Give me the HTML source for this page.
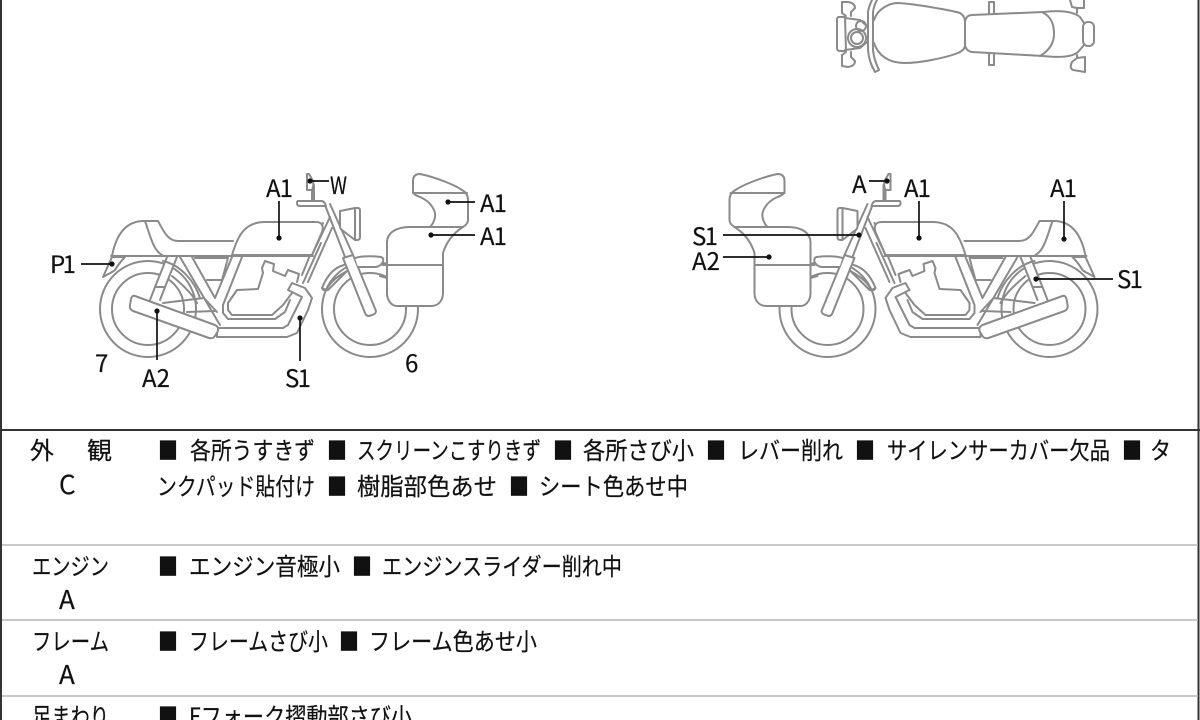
<!DOCTYPE html>
<html lang="ja"><head><meta charset="utf-8"><style>
html,body{margin:0;padding:0;background:#fff;width:1200px;height:720px;overflow:hidden}
svg{display:block;filter:blur(.35px)}
.l{font-family:"Noto Sans CJK JP","Liberation Sans",sans-serif;font-size:24px;fill:#111;stroke:#111;stroke-width:.2}
.t{font-family:"Noto Sans CJK JP","Liberation Sans",sans-serif;font-size:24px;fill:#111;stroke:#111;stroke-width:.2}
.d{fill:none;stroke:#8a8a8a;stroke-width:2;stroke-linejoin:round;stroke-linecap:round}
.k{stroke:#111;stroke-width:1.7;fill:none}
</style></head><body>
<svg width="1200" height="720" viewBox="0 0 1200 720" xmlns="http://www.w3.org/2000/svg">
<rect width="1200" height="720" fill="#fff"/>
<defs>
<g id="bike" class="d">
<circle cx="148" cy="309" r="48"/><circle cx="148" cy="309" r="36"/>
<circle cx="370" cy="309" r="48"/><circle cx="370" cy="309" r="36"/>
<path fill="#fff" d="M112,256 C116,235 125,222 142,221 L158,221 C164,232 168,241 178,241 L233,241"/>
<path d="M145,221 C150,235 153,250 162,255"/>
<path d="M312,255 L330,217 M303,283 L321,243 M302,275 L323,223 M308,282 L332,228"/>
<path d="M111,256 L313,256"/>
<path fill="#fff" d="M112,257 L103,277 C108,274 113,272 115,270 C118,265 122,260 125,257 Z"/>
<path fill="#fff" d="M232,255 C238,235 245,222 265,222 L316,222 C322,222 324,226 322,232 L312,255 Z"/>
<path fill="#fff" d="M167,257 L155,287 L165,287 L177,257 M155,287 L150,300 M165,287 L160,300"/>
<path d="M180,257 L217,320 L220,325 M192,257 L215,298 L232,257"/>
<path d="M195,258 L228,258 L222,280 L207,280 M207,280 L222,280"/>
<path d="M172,276 C183,285 193,295 197,303 M163,261 C181,265 195,282 200,298"/>
<path d="M163,303 L204,298 M187,312 L215,311 M204,298 L217,312"/>
<path d="M242,257 L223,305 L223,313 L228,319 L275,319 L285,312 L290,300"/>
<path d="M262,268 L265,261 L274,264 L273,271 L285,276 L288,270 L299,274 L297,282 M262,268 L263,273 L258,289 L237,290 L228,303 L228,310 L232,315 L272,315 L283,305 L292,293"/>
<path fill="#fff" d="M217,337 L287,337 L297,333 L308,310 L312,298 L305,288 L292,283 L288,290 L302,297 L288,325 L283,328 L217,328 Z"/>
<path fill="#fff" d="M135,296 L215,325 Q219,327 218,331 L215,336 Q213,339 209,338 L133,311 Q129,309 130,305 L131,299 Q132,295 135,296 Z"/>
<path d="M325,205 L345,257 M330,204 L353,255"/>
<path fill="#fff" d="M298,201 L322,201 Q325,202 326,206 L300,206 Q297,206 297,203 Q297,201 298,201 Z"/>
<path d="M312,200 L312,190 M314,200 L314,185"/>
<path d="M307,174 L309,174 L313,181 Q314,186 312,190 L307,190 Z"/>
<path fill="#fff" d="M340,211 L355,208 L358,208 Q360,208 360,211 L360,237 Q360,240 357,240 L355,240 L342,230 Q340,229 340,226 Z M355,208 L355,240"/>
<path fill="#fff" d="M343,258 L353,255 L376,311 Q376,314 372,315 L369,316 Q366,316 365,313 Z"/>
<path fill="#fff" d="M322,288 C328,273 336,267 344,265 M326,290 C332,279 342,274 347,271 L328,290 Q323,291 322,288 Z M355,258 C362,256 372,256 381,257 Q384,258 383,262 Q381,266 376,267 L358,267"/>
<path d="M383,265 L387,265 M380,276 L387,278"/>
<path fill="#fff" d="M387,243 C387,232 397,227 410,227 L463,227 C455,232 447,240 443,253 L443,293 C443,301 438,306 431,306 L397,306 C392,306 387,301 387,293 Z"/>
<path d="M387,265 L443,265"/>
<path fill="#fff" d="M413,192 L413,181 Q413,174 420,174 C435,177 455,185 462,190 Q468,193 468,200 L468,220 Q468,224 463,227 L430,227 Q434,223 435,217 C436,212 432,202 420,197 Q414,195 413,192 Z"/>
<path d="M413,193 L467,193"/>
</g>
</defs>
<use href="#bike"/>
<use href="#bike" transform="matrix(-1 0 0 1 1197.5 0)"/>
<g class="d">
<path d="M874,20 C878,8 890,3 898,3 C915,4 950,10 960,13 Q965,16 965,22 L965,45 Q965,50 958,53 C945,58 920,63 905,63 C888,63 878,55 874,43"/>
<path d="M965,22 Q966,15 972,15 L1043,12 Q1070,9 1080,17 L1084,23 M965,45 Q966,51 972,52 L1043,56 Q1070,59 1078,52 L1084,45"/>
<path d="M1042,12 C1052,17 1054,25 1054,34 C1054,42 1050,50 1040,56"/>
<rect x="1083" y="22" width="11" height="24" rx="5"/>
<path d="M989,13 L989,2 L994,2 L994,13 M989,54 L989,65 L994,65 L994,54"/>
<path d="M1077,13 L1077,8 L1084,8 L1084,0 M1070,0 L1072,7 L1077,8 M1077,55 L1077,58 L1072,62 Q1069,68 1073,70 L1085,72 L1085,57 L1077,58"/>
<path d="M872,0 Q869,6 868,12 L868,50 Q869,62 875,72 L879,70 Q874,60 873,50 L873,12 Q874,5 877,0"/>
<path d="M845,17 L839,17 Q837,17 837,20 L837,48 Q837,51 840,51 L846,51 Z M845,18 L860,20 L867,26 M845,50 L860,48 L867,42"/>
<circle cx="857" cy="38" r="6"/><circle cx="857" cy="38" r="9"/><circle cx="861" cy="26" r="5"/>
<path d="M846,16 L842,13 L842,2 L848,2 Q855,3 855,8 L851,12 L851,16 M846,52 L842,55 L842,66 L848,67 Q855,66 855,61 L851,57 L851,52"/>
</g>
<g class="k">
<path d="M279,201V238M310,181H329M81,264H112M157,360V311M300,361V318M448,202H475M431,235H475"/>
<path d="M869,181H887M919,201V238M1064,201V239M1036,279H1113M723,235H859M723,257H769"/>
</g>
<g fill="#111">
<circle cx="279" cy="238" r="2.6"/><circle cx="310" cy="181" r="2.6"/><circle cx="112" cy="264" r="2.6"/><circle cx="157" cy="311" r="2.6"/><circle cx="300" cy="318" r="2.6"/><circle cx="448" cy="202" r="2.6"/><circle cx="431" cy="235" r="2.6"/>
<circle cx="887" cy="181" r="2.6"/><circle cx="919" cy="238" r="2.6"/><circle cx="1064" cy="239" r="2.6"/><circle cx="1036" cy="279" r="2.6"/><circle cx="859" cy="235" r="2.6"/><circle cx="769" cy="257" r="2.6"/>
</g>
<g class="l">
<text x="266" y="197" textLength="27">A1</text><text x="330" y="194" textLength="17" lengthAdjust="spacingAndGlyphs">W</text><text x="50" y="273" textLength="26">P1</text><text x="142" y="387" textLength="28">A2</text><text x="285" y="387" textLength="26">S1</text><text x="480" y="212" textLength="27">A1</text><text x="480" y="245" textLength="27">A1</text><text x="95" y="372">7</text><text x="405" y="372">6</text>
<text x="852" y="193">A</text><text x="904" y="197" textLength="27">A1</text><text x="1050" y="197" textLength="27">A1</text><text x="1117" y="288" textLength="26">S1</text><text x="692" y="245" textLength="26">S1</text><text x="692" y="270" textLength="28">A2</text>
</g>
<path d="M1,0V720M1198.500,0V720" stroke="#333" stroke-width="2" fill="none"/>
<path d="M0,430H1200" stroke="#333" stroke-width="2" fill="none"/>
<path d="M2,545H1198M2,620H1198M2,696H1198" stroke="#b5b5b5" stroke-width="1.4" fill="none"/>
<g class="t">
<text x="30" y="459" textLength="24" lengthAdjust="spacingAndGlyphs">外</text><text x="87" y="459" textLength="25" lengthAdjust="spacingAndGlyphs">観</text>
<text x="59" y="494" style="font-size:26px">C</text>
<text x="32" y="575" textLength="77" lengthAdjust="spacingAndGlyphs">エンジン</text><text x="59" y="609" style="font-size:26px">A</text>
<text x="32" y="650" textLength="77" lengthAdjust="spacingAndGlyphs">フレーム</text><text x="59" y="684" style="font-size:26px">A</text>
<text x="32" y="725" textLength="77" lengthAdjust="spacingAndGlyphs">足まわり</text>

<text x="190" y="459" textLength="125" lengthAdjust="spacingAndGlyphs">各所うすきず</text>
<text x="357" y="459" textLength="184" lengthAdjust="spacingAndGlyphs">スクリーンこすりきず</text>
<text x="583" y="459" textLength="111" lengthAdjust="spacingAndGlyphs">各所さび小</text>
<text x="738" y="459" textLength="105" lengthAdjust="spacingAndGlyphs">レバー削れ</text>
<text x="887" y="459" textLength="223" lengthAdjust="spacingAndGlyphs">サイレンサーカバー欠品</text>
<text x="1150" y="459" textLength="21" lengthAdjust="spacingAndGlyphs">タ</text>
<text x="157" y="495" textLength="158" lengthAdjust="spacingAndGlyphs">ンクパッド貼付け</text>
<text x="357" y="495" textLength="140" lengthAdjust="spacingAndGlyphs">樹脂部色あせ</text>
<text x="539" y="495" textLength="149" lengthAdjust="spacingAndGlyphs">シート色あせ中</text>
<text x="189" y="575" textLength="151" lengthAdjust="spacingAndGlyphs">エンジン音極小</text>
<text x="382" y="575" textLength="240" lengthAdjust="spacingAndGlyphs">エンジンスライダー削れ中</text>
<text x="189" y="650" textLength="139" lengthAdjust="spacingAndGlyphs">フレームさび小</text>
<text x="369" y="650" textLength="168" lengthAdjust="spacingAndGlyphs">フレーム色あせ小</text>
<text x="189" y="725" textLength="223" lengthAdjust="spacingAndGlyphs">Fフォーク摺動部さび小</text>
<text x="158" y="459" textLength="20" lengthAdjust="spacingAndGlyphs">■</text>
<text x="327" y="459" textLength="20" lengthAdjust="spacingAndGlyphs">■</text>
<text x="553" y="459" textLength="20" lengthAdjust="spacingAndGlyphs">■</text>
<text x="706" y="459" textLength="20" lengthAdjust="spacingAndGlyphs">■</text>
<text x="855" y="459" textLength="20" lengthAdjust="spacingAndGlyphs">■</text>
<text x="1122" y="459" textLength="20" lengthAdjust="spacingAndGlyphs">■</text>
<text x="327" y="495" textLength="20" lengthAdjust="spacingAndGlyphs">■</text>
<text x="509" y="495" textLength="20" lengthAdjust="spacingAndGlyphs">■</text>
<text x="158" y="575" textLength="20" lengthAdjust="spacingAndGlyphs">■</text>
<text x="352" y="575" textLength="20" lengthAdjust="spacingAndGlyphs">■</text>
<text x="158" y="650" textLength="20" lengthAdjust="spacingAndGlyphs">■</text>
<text x="339" y="650" textLength="20" lengthAdjust="spacingAndGlyphs">■</text>
<text x="158" y="725" textLength="20" lengthAdjust="spacingAndGlyphs">■</text>
</g>
</svg>
</body></html>
